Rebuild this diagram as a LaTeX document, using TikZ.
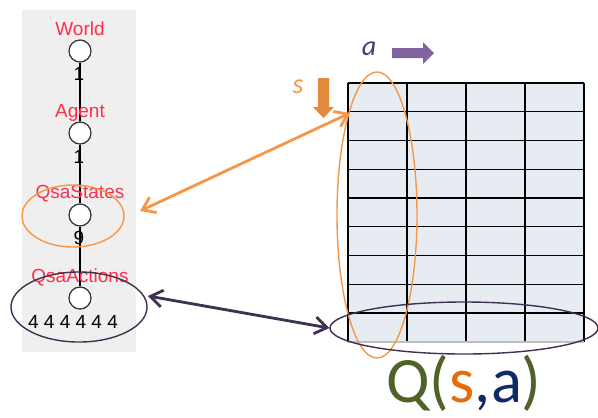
\documentclass[tikz,border=0pt]{standalone}
\usepackage{fontspec}
\setmainfont{Liberation Sans}
\newfontfamily\calib{Carlito}
\usetikzlibrary{arrows.meta,shapes.geometric}

\definecolor{panelgray}{HTML}{EFEFEF}
\definecolor{cellblue}{HTML}{E7ECF3}
\definecolor{labelred}{HTML}{FF2E4C}
\definecolor{sorange}{HTML}{F79646}
\definecolor{borange}{HTML}{E3893C}
\definecolor{dpurple}{HTML}{3E3152}
\definecolor{bpurple}{HTML}{8064A2}
\definecolor{alabel}{HTML}{3F3D7C}
\definecolor{qgreen}{HTML}{4F6228}
\definecolor{qorange}{HTML}{E46C0A}
\definecolor{qnavy}{HTML}{0F2A66}

\begin{document}
\begin{tikzpicture}[x=0.025cm,y=-0.025cm,>={Straight Barb[length=3mm,width=4.2mm]},
    vert/.style={circle,draw=black!80,fill=white,line width=0.9pt,minimum size=0.55cm,inner sep=0pt},
    lbl/.style={text=labelred,font=\fontsize{13.5}{14}\selectfont,inner sep=0pt},
    cnt/.style={font=\fontsize{13.5}{14}\selectfont,inner sep=0pt},
    ring/.style={ellipse,draw,line width=1pt,inner sep=0pt}]
\useasboundingbox (0,0) rectangle (598,417);
\fill[panelgray] (22,10) rectangle (136,352);

% the Q table: 4 actions by 9 states
\fill[cellblue] (348,83) rectangle (584,342);
\foreach \x in {348,407,466,525,584}
{
    \draw[line width=1pt] (\x,83)--(\x,342);
}
\foreach \y in {0,1,...,8}
{
    \draw[line width=1pt] (348,83+\y*28.75)--(584,83+\y*28.75);
}
\draw[line width=1.6pt] (348,313)--(584,313);
\draw[black!25,line width=1pt] (348,342)--(584,342);

% model tree
\node[vert] (world) at (80,51) {};
\node[vert] (agent) at (80,133) {};
\node[vert] (states) at (80,215) {};
\node[vert] (actions) at (80,298) {};
\draw[line width=0.8pt] (world)--(agent)--(states)--(actions);
\node[lbl] (worldtext) at (80,29) {World};
\node[lbl] (agenttext) at (80,113) {Agent};
\node[lbl] (statestext) at (80,194) {QsaStates};
\node[lbl] (actionstext) at (80,277) {QsaActions};
\node[cnt] (nworld) at (79,74) {1};
\node[cnt] (nagent) at (79,157) {1};
\node[cnt] (nstates) at (79,238) {9};
\node[cnt] (nactions) at (73,322) {4 4 4 4 4 4};

% highlight rings
\node[ring,draw=sorange,minimum width=2.55cm,minimum height=1.55cm] (statesring) at (73,216) {};
\node[ring,draw=dpurple,minimum width=3.4cm,minimum height=1.75cm] (actionsring) at (79,307) {};
\node[ring,draw=sorange,minimum width=2cm,minimum height=7.15cm] (colring) at (377,215) {};
\node[ring,draw=dpurple,minimum width=6.7cm,minimum height=1.3cm] (rowring) at (464,328) {};

\coordinate (sfrom) at (140,211);
\coordinate (sto) at (350,113);
\coordinate (afrom) at (148,296);
\draw[<->,sorange,line width=2pt] (sfrom)--(sto);
\draw[<->,dpurple,line width=2pt] (afrom)--(rowring.west);

% direction arrows
\fill[borange] (318,78)--(329,78)--(329,107)--(334,107)--(323.5,118)--(313,107)--(318,107)--cycle;
\fill[bpurple] (392,48)--(423,48)--(423,42)--(434,53)--(423,64)--(423,58)--(392,58)--cycle;
\node[text=alabel,font=\calib\itshape\fontsize{20}{20}\selectfont] (alab) at (369,49) {a};
\node[text=sorange,font=\calib\itshape\fontsize{20}{20}\selectfont] (slab) at (298,87) {s};

\node[anchor=base,inner sep=0pt,font=\calib\fontsize{46}{46}\selectfont] (qsa) at (464,402)
    {\textcolor{qgreen}{Q(}\textcolor{qorange}{s}\textcolor{qnavy}{,a}\textcolor{qgreen}{)}};
\end{tikzpicture}
\end{document}
